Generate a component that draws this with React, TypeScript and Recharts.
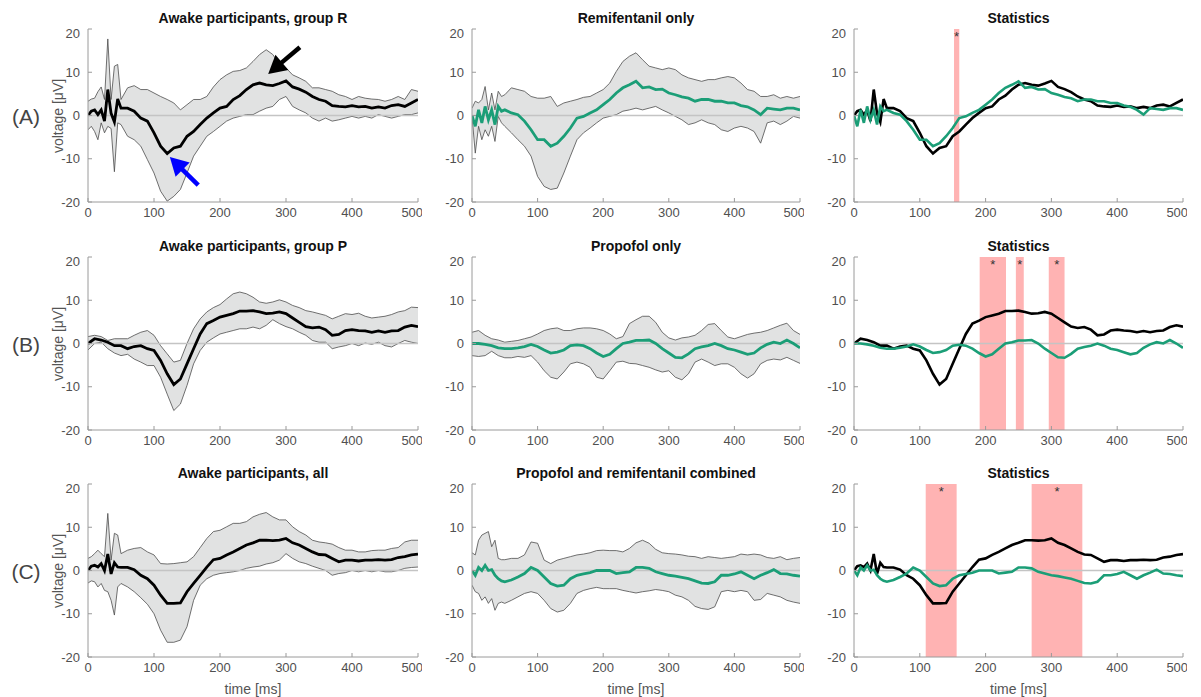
import {
  Area,
  ComposedChart,
  Line,
  ReferenceArea,
  ReferenceLine,
  XAxis,
  YAxis,
} from 'recharts';

// sample times (ms); rows A and C are sampled finer over the first 50 ms
const timesFine = [
  0, 5, 10, 15, 20, 25, 30, 35, 40, 45, 50, 60, 70, 80, 90, 100, 110, 120, 130, 140, 150, 160, 170, 180, 190,
  200, 210, 220, 230, 240, 250, 260, 270, 280, 290, 300, 310, 320, 330, 340, 350, 360, 370, 380, 390, 400,
  410, 420, 430, 440, 450, 460, 470, 480, 490, 500,
];
const timesCoarse = [
  0, 10, 20, 30, 40, 50, 60, 70, 80, 90, 100, 110, 120, 130, 140, 150, 160, 170, 180, 190, 200, 210, 220, 230,
  240, 250, 260, 270, 280, 290, 300, 310, 320, 330, 340, 350, 360, 370, 380, 390, 400, 410, 420, 430, 440, 450,
  460, 470, 480, 490, 500,
];

// (A) awake, group R
const awakeRMean = [
  0, 1, 1.3, 0.2, 1.3, -1.3, 6, 0.5, -1.5, 3.8, 1.7,
  1.7, 1, -0.6, -1.3, -4, -7.1, -8.8, -7.5, -7.1, -4.8, -3.7, -2.1, -0.6, 0.6, 1.7,
  2.1, 3.7, 4.6, 6, 7.1, 7.5, 7.1, 6.9, 7.4, 8, 6.6, 6.1, 5.4, 4.4, 3.7, 3.3, 2.3, 2.1, 2, 2.3,
  2, 2.1, 1.7, 2, 1.7, 2.3, 2.5, 2.1, 2.9, 3.7,
];
const awakeRHi = [
  3.3, 3.8, 4, 5.5, 6.6, 3.7, 17.7, 3.7, 11.4, 11.8, 3.7,
  6.4, 6.9, 6, 6, 5.2, 4.4, 3.7, 2.9, 1.3, 2.5, 3.7, 3.7, 4.4, 6.6, 8.3,
  9.4, 10.2, 10.4, 11, 12.5, 14.1, 15.2, 14.1, 11.8, 11, 9.4, 8.7, 7.9, 6.4, 6.4, 6, 5.6, 4.8, 4.4, 3.7,
  4.4, 4, 3.8, 3.7, 3.3, 3.7, 4.4, 3.7, 6, 5.6,
];
const awakeRLo = [
  -3.3, -2.5, -3.7, -5.6, -1.7, -4, -2.5, -3, -13, -1.7, -2.1,
  -4.8, -5.6, -7.1, -10.2, -13.3, -17.5, -19.8, -18.7, -17.1, -13.3, -9.4, -7.1, -4.8, -3.7, -2.5,
  -1.3, -0.6, -0.2, 0.2, 0.2, 1, 1.7, 2.1, 3.7, 4.4, 2.1, 1.3, 0.6, -0.6, -1.3, -0.6, -1.3, -1, -0.6, -0.2,
  -0.6, -0.2, -0.6, 0.2, -0.2, -0.6, -0.2, 0.2, 0.2, 0.6,
];

// remifentanil only
const remiMean = [
  0, -2.5, 1.3, -1.7, 2.1, -1, 1.3, -2.1, 2.1, 1, 1.3,
  0.6, 0.2, -1.3, -3.3, -5.6, -5.6, -7.1, -6.4, -4.8, -2.9, -0.6, -0.2, 0.6, 1.3, 2.5,
  3.7, 5.2, 6.4, 7.1, 7.9, 6.4, 6.6, 6, 6.1, 5.2, 4.8, 4.3, 4, 3.3, 3.7, 3.7, 3.3, 3.3, 2.9, 2.9,
  2.3, 2, 1.3, 0.2, 1.7, 1.5, 1.3, 1.7, 1.7, 1.3,
];
const remiHi = [
  1.7, 3.3, 2.9, 3.7, 6.7, 1.3, 5.2, 1.3, 5.6, 4.4, 4.8,
  6.4, 6, 5.6, 4.4, 4, 4, 4.4, 2.1, 2.9, 3.3, 3.7, 4.2, 4.4, 5.2, 6,
  7.5, 10.2, 12.5, 13.7, 14.5, 12.9, 11.4, 11, 10.6, 11, 10.6, 9.4, 8.7, 8.3, 7.9, 8.3, 8.3, 8.7, 9, 8.7,
  7.5, 6, 5.6, 4.4, 4.4, 4.8, 4, 4.4, 4, 4.4,
];
const remiLo = [
  -0.2, -8.7, -2.5, -5.6, -3.3, -4.8, -2.5, -6, -0.2, -1.7, -2.5,
  -4, -5.6, -7.1, -9.4, -14.1, -16.4, -17.1, -16.8, -13.3, -9.4, -5.6, -4, -2.9, -1.7, -0.6,
  -0.2, 0.2, 1, 1.3, 1.7, 1.3, 1.7, 2.1, 1.3, 0.6, -0.2, -1, -2.1, -1.7, -1, -1.7, -2.1, -3.3, -3.7, -2.9,
  -2.5, -2.9, -3.7, -6.4, -1.7, -1.3, -2.1, -1.3, -0.2, -0.6,
];

// (B) awake, group P
const awakePMean = [
  0, 1.1, 0.8, 0.3, -0.5, -0.5, -1.2, -0.7, -0.5, -1.2, -1.6,
  -3.9, -7, -9.5, -8.2, -4.7, -1.2, 2.2, 4.6, 5.3, 6.1,
  6.5, 6.9, 7.5, 7.5, 7.6, 7.3, 6.9, 7, 7.3, 6.9,
  5.9, 4.9, 3.9, 3.6, 3.8, 3.2, 1.9, 2.1, 3, 3.2,
  3, 2.9, 2.6, 2.9, 2.6, 2.9, 3, 3.8, 4.2, 3.9,
];
const awakePHi = [
  1.6, 1.9, 1.6, 0.7, 1.1, 1.1, 1.1, 1.9, 2.6, 3, 1.9,
  -0.5, -2.4, -4.3, -3.9, 0, 3.4, 5.7, 7.3, 8.3, 9,
  10.3, 11.5, 11.9, 11.5, 10.7, 9.6, 9.3, 9.6, 10.1, 9.6,
  8.8, 8.3, 7.6, 7.3, 6.9, 6.5, 5.7, 6.3, 6.9, 6.7,
  7, 6.3, 5.9, 6.1, 6.3, 6.7, 7.3, 7.6, 8.4, 8.3,
];
const awakePLo = [
  -1.5, 0, 0.3, -1.2, -2.2, -2.8, -2.5, -3.6, -4.3, -5.1, -5.1,
  -7.8, -11.7, -15.5, -14, -9.7, -4.7, -1.6, 0.3, 1.3, 2.2,
  2.6, 3, 3.4, 3.4, 3.8, 3.4, 4.2, 5.5, 4.6, 3.9,
  3.4, 2.6, 1.9, 0.7, 0.3, 0.3, -1.2, -0.8, -0.5, 0,
  -0.5, 0.1, -0.2, 0.3, -0.5, -0.8, 0, 0.7, 0.3, 0,
];

// propofol only
const propMean = [
  0, 0, -0.2, -0.5, -1, -1.2, -1.2, -1, -0.7, -0.2, -0.7,
  -1.5, -2.2, -2, -1.5, -0.5, -0.3, -0.5, -1.2, -2.2, -3,
  -2.5, -1.2, 0, 0.3, 0.7, 0.7, 0.8, 0, -1.2, -2.2,
  -3.2, -3.3, -2.4, -1.2, -0.8, -0.5, 0, -0.5, -1.2, -1.5,
  -2, -2.5, -2.2, -1, -0.2, 0.3, 0, 0.8, 0, -1,
];
const propHi = [
  2.6, 3, 1.9, 1.1, 0.8, 0.3, 0.5, 0.7, 1.1, 1.5, 2.2,
  3, 3.4, 3.6, 3, 3, 3.4, 3.6, 3.6, 3.4, 3,
  2.2, 1.1, 1.6, 4.6, 5.5, 6.3, 6.3, 4.9, 2.6, 1.3,
  0.8, 1.3, 1.5, 1.9, 3, 4.4, 4.6, 3, 1.5, 1.1,
  1.6, 2.1, 2.4, 2.6, 3, 3.6, 4.2, 4.7, 3, 2.1,
];
const propLo = [
  -2.8, -3, -2.8, -1.8, -2.8, -3.3, -3.3, -3, -3.2, -2.8, -4.3,
  -6.3, -7.8, -8.2, -6.6, -4.7, -4.3, -4.7, -5.5, -7.8, -8.2,
  -6.3, -4.3, -4.1, -4.6, -4.7, -5.1, -5.5, -6.1, -6.6, -6.3,
  -7.8, -8.4, -7, -4.3, -3.6, -4.3, -5.1, -4.7, -4.7, -5.5,
  -7, -8, -7, -4.7, -3.9, -3.6, -3.8, -3.2, -3.9, -4.6,
];

// (C) awake, all
const awakeAllMean = [
  0, 1, 1.2, 0.8, 1.6, 0, 3.8, -0.8, 1.8, 0.8, 0.7,
  0.7, 0.2, -1.1, -1.9, -3.4,
  -5.7, -7.6, -7.6, -7.5, -4.9, -3, -1.1, 0.8, 2.5, 2.8,
  3.6, 4.3, 5.1, 5.9, 6.4, 7, 7, 6.9, 7, 7.4,
  6.4, 5.9, 5.1, 4.3, 3.7, 3.6, 2.8, 2, 2.4, 2.4,
  2.2, 2.4, 2.4, 2.5, 2.4, 2.5, 3, 3.2, 3.6, 3.8,
];
const awakeAllHi = [
  2.8, 3.2, 3.9, 4.7, 3.9, 3.2, 13.2, 2.4, 8.6, 8.2, 3.9,
  4.7, 5.1, 5.3, 4.3, 3.6,
  1.6, 1.5, 1.6, 1.8, 2, 3.2, 5.3, 7.4, 9, 9.3,
  10.1, 10.9, 10.9, 11.3, 12.4, 13, 13.4, 12.4, 11.7, 11.7,
  10.1, 9, 8.2, 7, 6.6, 6.4, 6.1, 5.3, 4.7, 4.7,
  4.3, 4.3, 4.6, 4.7, 4.7, 5.1, 5.3, 6.6, 7, 7,
];
const awakeAllLo = [
  -2.9, -2.4, -2.6, -3.8, -3, -4.6, -4.9, -6.9, -10.3, -3.8, -3,
  -3.8, -4.9, -6.3, -7.8, -10,
  -13.8, -16.6, -16.6, -16.1, -13, -6.9, -3.4, -1.9, -1.1, -0.7,
  -0.5, -0.3, 0, 0.5, 0.8, 1, 1.5, 1.8, 2.4, 3.9,
  2.8, 2, 1.6, 1, 0.5, 0, -1.1, -0.7, -0.5, 0,
  -0.3, 0, -0.3, 0, -0.3, -0.3, 0, 0.5, 0.7, 0.8,
];

// propofol and remifentanil combined
const combMean = [
  0, -1.1, 0.7, 0, 1.2, 0, 0.2, -1.1, -1.9, -2.4, -2.6,
  -2.2, -1.5, -0.7, 0.7, 0,
  -1.5, -3, -3.6, -3.4, -1.9, -1.1, -0.8, -0.5, 0, 0,
  0, -0.7, -0.5, -0.3, 0.7, 0.7, 0.5, -0.3, -0.7, -1.1,
  -1.3, -1.6, -1.9, -2.4, -2.9, -3, -2.6, -1.1, -1.1, -0.8,
  -0.3, -1.1, -1.9, -1.1, -0.5, 0.2, -0.7, -0.8, -1.1, -1.3,
];
const combHi = [
  4.1, 3.6, 7, 8.2, 8.6, 9, 5.5, 7, 2.8, 2.5, 2.5,
  2.8, 2.8, 3.6, 6.6, 6.3,
  2.4, 1.6, 2.4, 2.8, 3.2, 3.6, 3.8, 4.1, 4.6, 4.7,
  4.6, 4.6, 4.3, 5.1, 6.4, 7, 6.3, 4.9, 4.1, 3.9,
  3.8, 3.6, 3.3, 3.2, 2.8, 3.2, 3, 2.8, 3, 3.2,
  3.8, 3.6, 3.8, 3.6, 3, 2.8, 3.2, 2.5, 2.8, 3,
];
const combLo = [
  -3.4, -4.9, -5.3, -6.9, -6.1, -7.6, -6.5, -9.2, -7.6, -7.3, -7.6,
  -6.9, -6.1, -5.3, -4.9, -5.3,
  -6.9, -8.8, -9.6, -9.2, -7.6, -5.3, -4.6, -4.2, -3.9, -4.2,
  -4.2, -4.2, -4.6, -4.9, -5.2, -4.9, -4.7, -4.4, -4.6, -4.9,
  -5.7, -6.1, -6.9, -8.3, -8.8, -9, -8.4, -4.9, -4.6, -4.9,
  -4.6, -4.9, -6.9, -6.7, -5.3, -5.7, -6.1, -6.9, -7.3, -7.6,
];

// significant windows [start, end] in ms
const sigA = [[152, 160]];
const sigB = [[191, 231], [246, 258], [296, 320]];
const sigC = [[109, 156], [270, 347]];

// annotation arrows in panel A1: [tail, tip] as [ms, µV]
const arrowBlack = [[321, 15.8], [273, 9.6]];
const arrowBlue = [[167, -16.1], [124, -9.6]];

const titles = [
  ['Awake participants, group R', 'Remifentanil only', 'Statistics'],
  ['Awake participants, group P', 'Propofol only', 'Statistics'],
  ['Awake participants, all', 'Propofol and remifentanil combined', 'Statistics'],
];
const rowLabels = ['(A)', '(B)', '(C)'];
const xTicks = [0, 100, 200, 300, 400, 500];
const yTicks = [-20, -10, 0, 10, 20];

const COL_LEFT = [88, 472, 854];
const COL_W = [330, 328, 329];
const ROW_TOP = [29, 257, 484];
const PH = 173;
const YW = 40;
const TM = 4;
const RM = 4;
const XH = 30;

const GREEN = '#1b9e77';
const AXIS = '#9a9a9a';
const TICK_TEXT = '#505050';
const FONT = '"Liberation Sans", Arial, Helvetica, sans-serif';

const bandRows = (times: number[], m: number[], lo: number[], hi: number[]) =>
  times.map((t, i) => ({ t, m: m[i], lo: lo[i], hi: hi[i], band: [lo[i], hi[i]] }));
const statRows = (times: number[], a: number[], b: number[]) =>
  times.map((t, i) => ({ t, a: a[i], b: b[i] }));

const arrowShape = (color: string) => (p: any) => {
  const { x1, y1, x2, y2 } = p;
  const dx = x2 - x1;
  const dy = y2 - y1;
  const len = Math.hypot(dx, dy) || 1;
  const ux = dx / len;
  const uy = dy / len;
  const hl = 18;
  const hw = 10;
  const bx = x2 - ux * hl;
  const by = y2 - uy * hl;
  return (
    <g>
      <line x1={x1} y1={y1} x2={bx + ux * 2} y2={by + uy * 2} stroke={color} strokeWidth={4.5} />
      <polygon
        points={`${x2},${y2} ${bx - uy * hw},${by + ux * hw} ${bx + uy * hw},${by - ux * hw}`}
        fill={color}
      />
    </g>
  );
};

type PanelProps = {
  row: number;
  col: number;
  data: any[];
  kind: 'band' | 'stats';
  color?: string;
  sig?: number[][];
  arrows?: { pts: number[][]; color: string }[];
};

function Panel({ row, col, data, kind, color = '#000', sig = [], arrows = [] }: PanelProps) {
  const pl = COL_LEFT[col];
  const pw = COL_W[col];
  const pt = ROW_TOP[row];
  const tickStyle = { fill: TICK_TEXT, fontSize: 13, fontFamily: FONT };
  return (
    <div style={{ position: 'absolute', left: pl - YW, top: pt - TM }}>
      <ComposedChart
        width={YW + pw + RM}
        height={TM + PH + XH}
        data={data}
        margin={{ top: TM, right: RM, left: 0, bottom: 0 }}
      >
        <XAxis
          dataKey="t"
          type="number"
          domain={[0, 500]}
          ticks={xTicks}
          allowDataOverflow
          height={XH}
          stroke={AXIS}
          tickSize={-4}
          tickMargin={10}
          tick={tickStyle}
        />
        <XAxis
          xAxisId="top"
          orientation="top"
          dataKey="t"
          type="number"
          domain={[0, 500]}
          ticks={xTicks}
          height={0}
          stroke={AXIS}
          tickSize={-4}
          tickFormatter={() => ''}
        />
        <YAxis
          type="number"
          domain={[-20, 20]}
          ticks={yTicks}
          allowDataOverflow
          width={YW}
          stroke={AXIS}
          tickSize={-4}
          tickMargin={12}
          tick={tickStyle}
        />
        <YAxis
          yAxisId="right"
          orientation="right"
          type="number"
          domain={[-20, 20]}
          ticks={yTicks}
          width={0}
          stroke={AXIS}
          tickSize={-4}
          tickFormatter={() => ''}
        />
        {sig.map(([s, e], i) => (
          <ReferenceArea
            key={`sig${i}`}
            x1={s}
            x2={e}
            fill="#ff8080"
            fillOpacity={0.6}
            stroke="none"
            label={{ value: '*', position: 'insideTop', offset: 3, fill: '#333', fontSize: 13, fontFamily: FONT }}
          />
        ))}
        {kind === 'band' && (
          <Area
            dataKey="band"
            type="linear"
            fill="#e1e2e2"
            fillOpacity={1}
            stroke="none"
            isAnimationActive={false}
          />
        )}
        {kind === 'band' && (
          <Line dataKey="hi" type="linear" stroke="#4d4d4d" strokeWidth={0.8} dot={false} isAnimationActive={false} />
        )}
        {kind === 'band' && (
          <Line dataKey="lo" type="linear" stroke="#4d4d4d" strokeWidth={0.8} dot={false} isAnimationActive={false} />
        )}
        <ReferenceLine y={0} stroke="#c4c4c4" strokeWidth={1.5} />
        {kind === 'band' && (
          <Line dataKey="m" type="linear" stroke={color} strokeWidth={2.8} dot={false} isAnimationActive={false} />
        )}
        {kind === 'stats' && (
          <Line dataKey="a" type="linear" stroke="#000" strokeWidth={2.6} dot={false} isAnimationActive={false} />
        )}
        {kind === 'stats' && (
          <Line dataKey="b" type="linear" stroke={GREEN} strokeWidth={2.6} dot={false} isAnimationActive={false} />
        )}
        {arrows.map((a, i) => (
          <ReferenceLine
            key={`arr${i}`}
            segment={[
              { x: a.pts[0][0], y: a.pts[0][1] },
              { x: a.pts[1][0], y: a.pts[1][1] },
            ]}
            shape={arrowShape(a.color)}
          />
        ))}
      </ComposedChart>
    </div>
  );
}

function Text({ x, y, children, style }: { x: number; y: number; children: any; style?: any }) {
  return (
    <div
      style={{
        position: 'absolute',
        left: x,
        top: y,
        transform: 'translate(-50%, -50%)',
        whiteSpace: 'nowrap',
        lineHeight: 1,
        fontFamily: FONT,
        ...style,
      }}
    >
      {children}
    </div>
  );
}

export default function App() {
  const rA = bandRows(timesFine, awakeRMean, awakeRLo, awakeRHi);
  const rRemi = bandRows(timesFine, remiMean, remiLo, remiHi);
  const rB = bandRows(timesCoarse, awakePMean, awakePLo, awakePHi);
  const rProp = bandRows(timesCoarse, propMean, propLo, propHi);
  const rC = bandRows(timesFine, awakeAllMean, awakeAllLo, awakeAllHi);
  const rComb = bandRows(timesFine, combMean, combLo, combHi);

  return (
    <div style={{ position: 'absolute', left: 0, top: 0, width: 1201, height: 697, background: '#fff', overflow: 'hidden' }}>
      <Panel
        row={0}
        col={0}
        data={rA}
        kind="band"
        arrows={[
          { pts: arrowBlack, color: '#000' },
          { pts: arrowBlue, color: '#0000ff' },
        ]}
      />
      <Panel row={0} col={1} data={rRemi} kind="band" color={GREEN} />
      <Panel row={0} col={2} data={statRows(timesFine, awakeRMean, remiMean)} kind="stats" sig={sigA} />
      <Panel row={1} col={0} data={rB} kind="band" />
      <Panel row={1} col={1} data={rProp} kind="band" color={GREEN} />
      <Panel row={1} col={2} data={statRows(timesCoarse, awakePMean, propMean)} kind="stats" sig={sigB} />
      <Panel row={2} col={0} data={rC} kind="band" />
      <Panel row={2} col={1} data={rComb} kind="band" color={GREEN} />
      <Panel row={2} col={2} data={statRows(timesFine, awakeAllMean, combMean)} kind="stats" sig={sigC} />

      {titles.map((r, ri) =>
        r.map((t, ci) => (
          <Text
            key={`t${ri}${ci}`}
            x={COL_LEFT[ci] + COL_W[ci] / 2}
            y={ROW_TOP[ri] - 11}
            style={{ fontSize: 14, fontWeight: 'bold', color: '#111' }}
          >
            {t}
          </Text>
        ))
      )}
      {rowLabels.map((l, ri) => (
        <Text key={`rl${ri}`} x={26} y={ROW_TOP[ri] + PH / 2} style={{ fontSize: 21, color: '#444' }}>
          {l}
        </Text>
      ))}
      {rowLabels.map((_, ri) => (
        <Text
          key={`yl${ri}`}
          x={58}
          y={ROW_TOP[ri] + PH / 2}
          style={{ fontSize: 14, color: '#555', transform: 'translate(-50%, -50%) rotate(-90deg)' }}
        >
          voltage [μV]
        </Text>
      ))}
      {COL_LEFT.map((l, ci) => (
        <Text key={`xl${ci}`} x={l + COL_W[ci] / 2} y={689} style={{ fontSize: 14, color: '#555' }}>
          time [ms]
        </Text>
      ))}
    </div>
  );
}
